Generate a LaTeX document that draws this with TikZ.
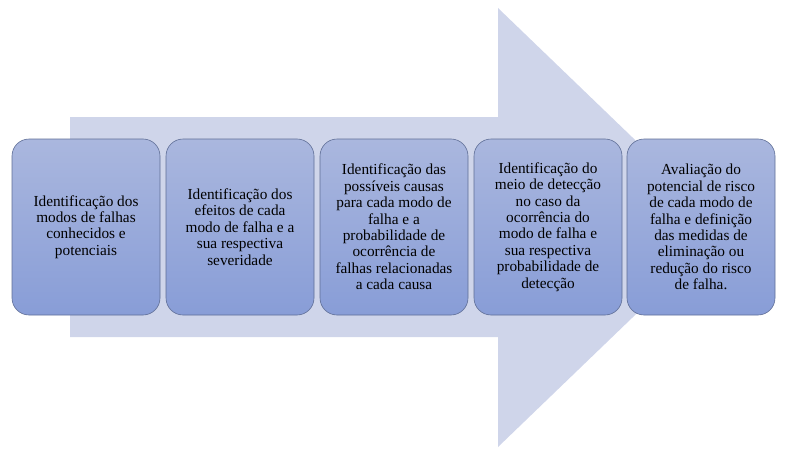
\documentclass[tikz,border=0pt]{standalone}
\usepackage{fontspec}
\setmainfont{Liberation Serif}
\newfontfamily\tnr{Liberation Serif}
\definecolor{arrowfill}{RGB}{207,213,234}
\definecolor{boxtop}{RGB}{170,183,222}
\definecolor{boxbot}{RGB}{136,157,215}
\definecolor{boxline}{RGB}{95,110,150}
\tikzset{
  stepbox/.style={draw=boxline, line width=0.6pt, rounded corners=17pt,
    top color=boxtop, bottom color=boxbot, minimum width=148pt, minimum height=176pt,
    inner sep=0pt, align=center, font=\tnr\fontsize{15.3pt}{16.4pt}\selectfont, text=black},
}
\begin{document}
\begin{tikzpicture}[x=1pt,y=1pt]
\useasboundingbox (0,0) rectangle (800,451);
% big arrow (y flipped: y' = 451 - y)
\fill[arrowfill] (70,451-117) -- (498,451-117) -- (498,451-8) -- (726,451-227.5)
  -- (498,451-447) -- (498,451-337) -- (70,451-337) -- cycle;
\node[stepbox] (b1) at (86,451-227) {Identificação dos\\modos de falhas\\conhecidos e\\potenciais};
\node[stepbox] (b2) at (240,451-227) {Identificação dos\\efeitos de cada\\modo de falha e a\\sua respectiva\\severidade};
\node[stepbox] (b3) at (394,451-227) {Identificação das\\possíveis causas\\para cada modo de\\falha e a\\probabilidade de\\ocorrência de\\falhas relacionadas\\a cada causa};
\node[stepbox] (b4) at (548,451-227) {Identificação do\\meio de detecção\\no caso da\\ocorrência do\\modo de falha e\\sua respectiva\\probabilidade de\\detecção};
\node[stepbox] (b5) at (701,451-227) {Avaliação do\\potencial de risco\\de cada modo de\\falha e definição\\das medidas de\\eliminação ou\\redução do risco\\de falha.};
\end{tikzpicture}
\end{document}
